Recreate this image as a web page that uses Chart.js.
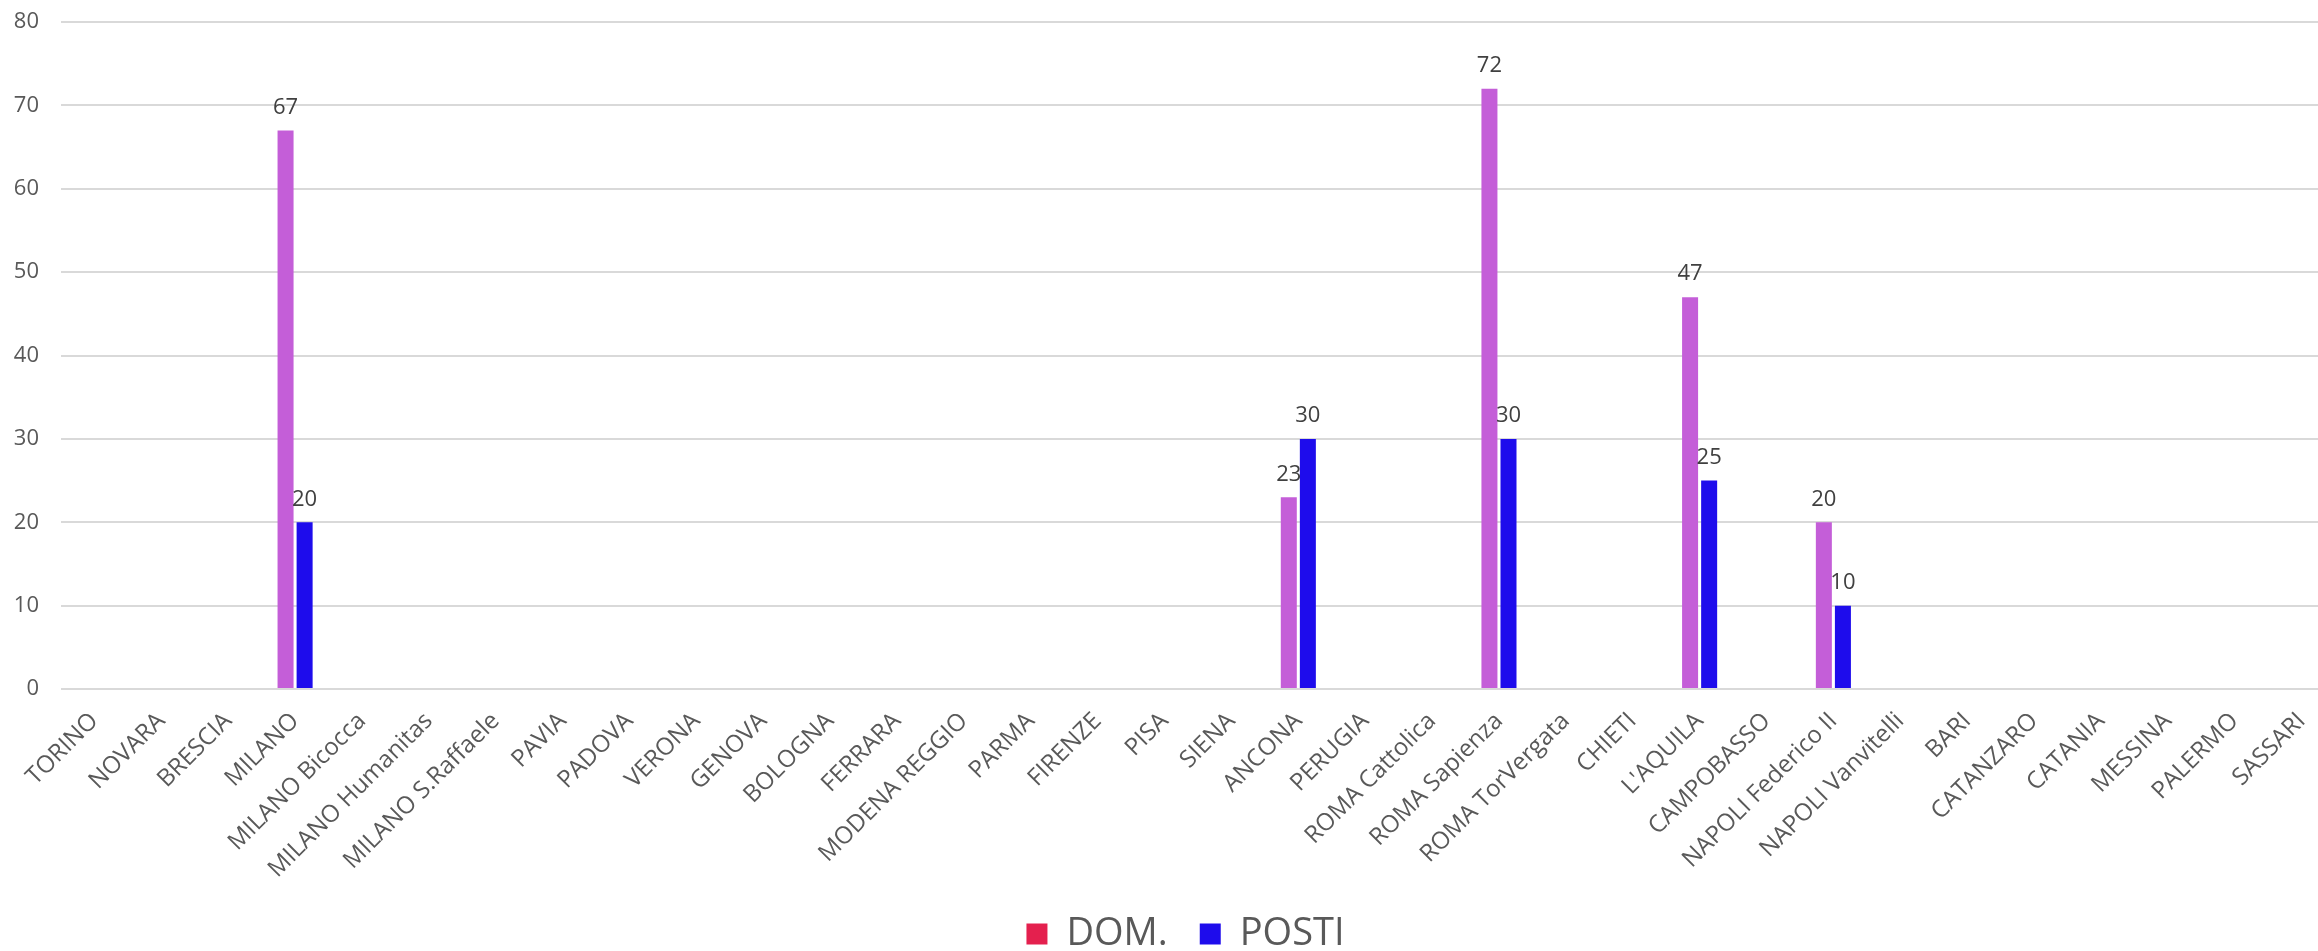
<!DOCTYPE html>
<html>
<head>
<meta charset="utf-8">
<script src="https://cdn.jsdelivr.net/npm/chart.js@4.4.1/dist/chart.umd.min.js"></script>
<style>
  html, body { margin: 0; padding: 0; background: #ffffff; overflow: hidden; }
  #wrap { position: relative; width: 2437px; height: 963px; }
</style>
</head>
<body>
<div id="wrap"><canvas id="c" width="2437" height="963"></canvas></div>
<script>
const categories = [
  "TORINO", "NOVARA", "BRESCIA", "MILANO", "MILANO Bicocca", "MILANO Humanitas",
  "MILANO S.Raffaele", "PAVIA", "PADOVA", "VERONA", "GENOVA", "BOLOGNA", "FERRARA",
  "MODENA REGGIO", "PARMA", "FIRENZE", "PISA", "SIENA", "ANCONA", "PERUGIA",
  "ROMA Cattolica", "ROMA Sapienza", "ROMA TorVergata", "CHIETI", "L'AQUILA",
  "CAMPOBASSO", "NAPOLI Federico II", "NAPOLI Vanvitelli", "BARI", "CATANZARO",
  "CATANIA", "MESSINA", "PALERMO", "SASSARI"
];
const domValues = [
  null, null, null, 67, null, null,
  null, null, null, null, null, null, null,
  null, null, null, null, null, 23, null,
  null, 72, null, null, 47,
  null, 20, null, null, null,
  null, null, null, null
];
const postiValues = [
  null, null, null, 20, null, null,
  null, null, null, null, null, null, null,
  null, null, null, null, null, 30, null,
  null, 30, null, null, 25,
  null, 10, null, null, null,
  null, null, null, null
];
const seriesNames = ["DOM.", "POSTI"];
const yTicks = [0, 10, 20, 30, 40, 50, 60, 70, 80];

const FONT = "'Open Sans', 'DejaVu Sans', sans-serif";
const barColors = ["#C45ED8", "#1E0CEC"];
const legendColors = ["#E4204E", "#1E0CEC"];

const valueLabels = {
  id: "valueLabels",
  afterDatasetsDraw(chart) {
    const ctx = chart.ctx;
    ctx.save();
    ctx.font = "22px " + FONT;
    ctx.fillStyle = "#404040";
    ctx.textAlign = "center";
    ctx.textBaseline = "bottom";
    chart.data.datasets.forEach((ds, di) => {
      const meta = chart.getDatasetMeta(di);
      meta.data.forEach((bar, i) => {
        const v = ds.data[i];
        if (v === null || v === undefined) return;
        ctx.fillText(String(v), bar.x, bar.y - 12);
      });
    });
    ctx.restore();
  }
};

// center the legend on the (wider) original chart width
const legendShift = {
  id: "legendShift",
  afterLayout(chart) {
    if (chart.legend) {
      chart.legend.left += 18;
      chart.legend.right += 18;
    }
  }
};

new Chart(document.getElementById("c"), {
  type: "bar",
  data: {
    labels: categories,
    datasets: [
      { label: seriesNames[0], data: domValues, backgroundColor: barColors[0],
        barPercentage: 0.84, categoryPercentage: 0.57 },
      { label: seriesNames[1], data: postiValues, backgroundColor: barColors[1],
        barPercentage: 0.84, categoryPercentage: 0.57 }
    ]
  },
  options: {
    responsive: false,
    animation: false,
    layout: { padding: { left: 0, right: 102, top: 22, bottom: 0 } },
    plugins: {
      tooltip: { enabled: false },
      legend: {
        position: "bottom",
        labels: {
          font: { family: FONT, size: 38, lineHeight: 1 },
          color: "#595959",
          boxWidth: 21,
          boxHeight: 21,
          padding: 32,
          generateLabels(chart) {
            return chart.data.datasets.map((ds, i) => ({
              text: ds.label,
              fillStyle: legendColors[i],
              strokeStyle: legendColors[i],
              lineWidth: 0,
              fontColor: "#595959",
              hidden: false,
              datasetIndex: i
            }));
          }
        }
      }
    },
    scales: {
      x: {
        afterFit(scale) { scale.height = 194; },
        grid: { display: false, drawTicks: false },
        border: { display: false },
        ticks: {
          autoSkip: false,
          maxRotation: 45,
          minRotation: 45,
          color: "#595959",
          font: { family: FONT, size: 24 },
          padding: 18
        }
      },
      y: {
        min: 0,
        max: 80,
        afterFit(scale) { scale.width = 61; scale.paddingTop = 0; scale.paddingBottom = 0; },
        afterBuildTicks(scale) { scale.ticks = yTicks.map(v => ({ value: v })); },
        grid: { color: "#D9D9D9", lineWidth: 2, drawTicks: false },
        border: { display: false },
        ticks: {
          color: "#595959",
          font: { family: FONT, size: 22 },
          padding: 22
        }
      }
    }
  },
  plugins: [valueLabels, legendShift]
});
</script>
</body>
</html>
